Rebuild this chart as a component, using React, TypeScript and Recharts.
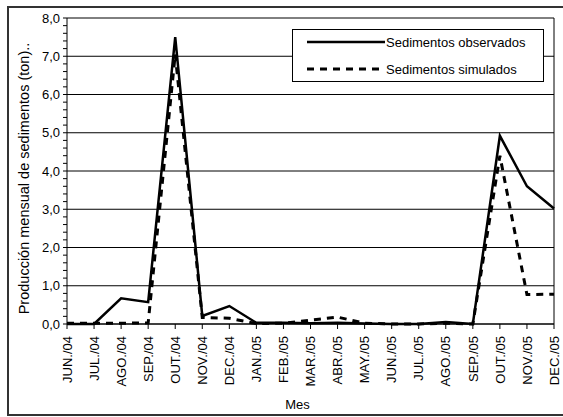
import React from 'react';
import {
  CartesianGrid,
  Line,
  LineChart,
  ReferenceLine,
  XAxis,
  YAxis,
} from 'recharts';

const MONTHS = [
  'JUN./04', 'JUL./04', 'AGO./04', 'SEP./04', 'OUT./04', 'NOV./04', 'DEC./04',
  'JAN./05', 'FEB./05', 'MAR./05', 'ABR./05', 'MAY./05', 'JUN./05', 'JUL./05',
  'AGO./05', 'SEP./05', 'OUT./05', 'NOV./05', 'DEC./05',
];

const OBSERVED = [
  0, 0, 0.67, 0.57, 7.5, 0.21, 0.47, 0.03, 0.03, 0.02, 0.03, 0.01, 0, 0, 0.05,
  0, 4.92, 3.6, 3.02,
];

const SIMULATED = [
  0.02, 0.02, 0.02, 0.03, 7.05, 0.17, 0.15, 0.01, 0.02, 0.1, 0.18, 0.02, 0, 0,
  0.02, 0, 4.4, 0.77, 0.78,
];

const MAJOR_TICKS = [0, 1, 2, 3, 4, 5, 6, 7, 8];
const MINOR_STEP = 0.2;

const FONT = '"Liberation Sans", Arial, sans-serif';

const data = MONTHS.map((m, i) => ({
  mes: m,
  observados: OBSERVED[i],
  simulados: SIMULATED[i],
}));

// minor ticks every 0,2 — only the whole numbers get a label
const yTicks = Array.from(
  { length: Math.round(8 / MINOR_STEP) + 1 },
  (_, i) => Math.round(i * MINOR_STEP * 10) / 10,
);

const isMajor = (v: number) => MAJOR_TICKS.includes(v);

function YTick({ x, y, payload }: any) {
  if (!isMajor(payload.value)) return null;
  return (
    <text
      x={x}
      y={y}
      dy="0.35em"
      textAnchor="end"
      fontSize={13}
      fontFamily={FONT}
      fill="#000"
    >
      {payload.value.toFixed(1).replace('.', ',')}
    </text>
  );
}

function XTick({ x, y, payload }: any) {
  return (
    <text
      x={0}
      y={0}
      dy="0.36em"
      textAnchor="end"
      fontSize={13}
      fontFamily={FONT}
      fill="#000"
      transform={`translate(${x},${y + 5}) rotate(-90)`}
    >
      {payload.value}
    </text>
  );
}

function YLabel({ viewBox }: any) {
  const cx = viewBox.x + 7;
  const cy = viewBox.y + viewBox.height / 2 + 7.5;
  return (
    <text
      x={0}
      y={0}
      dy="0.35em"
      textAnchor="middle"
      fontSize={14.5}
      fontFamily={FONT}
      fill="#000"
      transform={`translate(${cx},${cy}) rotate(-90)`}
    >
      Producción mensual de sedimentos (ton)..
    </text>
  );
}

export default function App() {
  return (
    <div
      style={{
        position: 'absolute',
        left: 0,
        top: 0,
        width: 563,
        height: 417,
        overflow: 'hidden',
        background: '#fff',
      }}
    >
      <div
        style={{
          position: 'absolute',
          left: 7,
          top: 6,
          width: 620,
          height: 410,
          boxSizing: 'border-box',
          border: '2px solid #333',
        }}
      />
      <LineChart
        width={563}
        height={417}
        data={data}
        margin={{ top: 18, right: 9, left: 17, bottom: 0 }}
        style={{ position: 'absolute', left: 0, top: 0 }}
      >
        <CartesianGrid
          vertical={false}
          horizontalValues={MAJOR_TICKS}
          stroke="#000"
          strokeWidth={1}
        />
        <XAxis
          dataKey="mes"
          scale="point"
          interval={0}
          height={93}
          tickSize={5}
          tick={<XTick />}
          axisLine={{ stroke: '#000' }}
          tickLine={{ stroke: '#000' }}
          label={{
            value: 'Mes',
            position: 'insideBottom',
            offset: 8,
            dx: -13,
            fontSize: 13,
            fontFamily: FONT,
            fill: '#000',
          }}
        />
        <YAxis
          width={50}
          domain={[0, 8]}
          ticks={yTicks}
          interval={0}
          tickSize={4}
          tickMargin={3}
          tick={<YTick />}
          axisLine={{ stroke: '#000' }}
          tickLine={{ stroke: '#000' }}
          label={<YLabel />}
        />
        <ReferenceLine x="DEC./05" stroke="#000" strokeWidth={1} />
        <Line
          type="linear"
          dataKey="simulados"
          stroke="#000"
          strokeWidth={3}
          strokeDasharray="7 6"
          dot={false}
          isAnimationActive={false}
        />
        <Line
          type="linear"
          dataKey="observados"
          stroke="#000"
          strokeWidth={2.5}
          dot={false}
          isAnimationActive={false}
        />
      </LineChart>
      <div
        style={{
          position: 'absolute',
          left: 292,
          top: 29,
          width: 252,
          height: 53,
          boxSizing: 'border-box',
          border: '1px solid #000',
          background: '#fff',
          fontFamily: FONT,
          fontSize: 13,
        }}
      >
        <svg width={252} height={53} style={{ position: 'absolute', left: -1, top: -1 }}>
          <line x1={15} y1={13} x2={93} y2={13} stroke="#000" strokeWidth={2.5} />
          <line
            x1={15}
            y1={40}
            x2={93}
            y2={40}
            stroke="#000"
            strokeWidth={3}
            strokeDasharray="7 6"
          />
          <text x={94} y={13} dy="0.35em" fontSize={13} fontFamily={FONT}>
            Sedimentos observados
          </text>
          <text x={94} y={40} dy="0.35em" fontSize={13} fontFamily={FONT}>
            Sedimentos simulados
          </text>
        </svg>
      </div>
    </div>
  );
}
